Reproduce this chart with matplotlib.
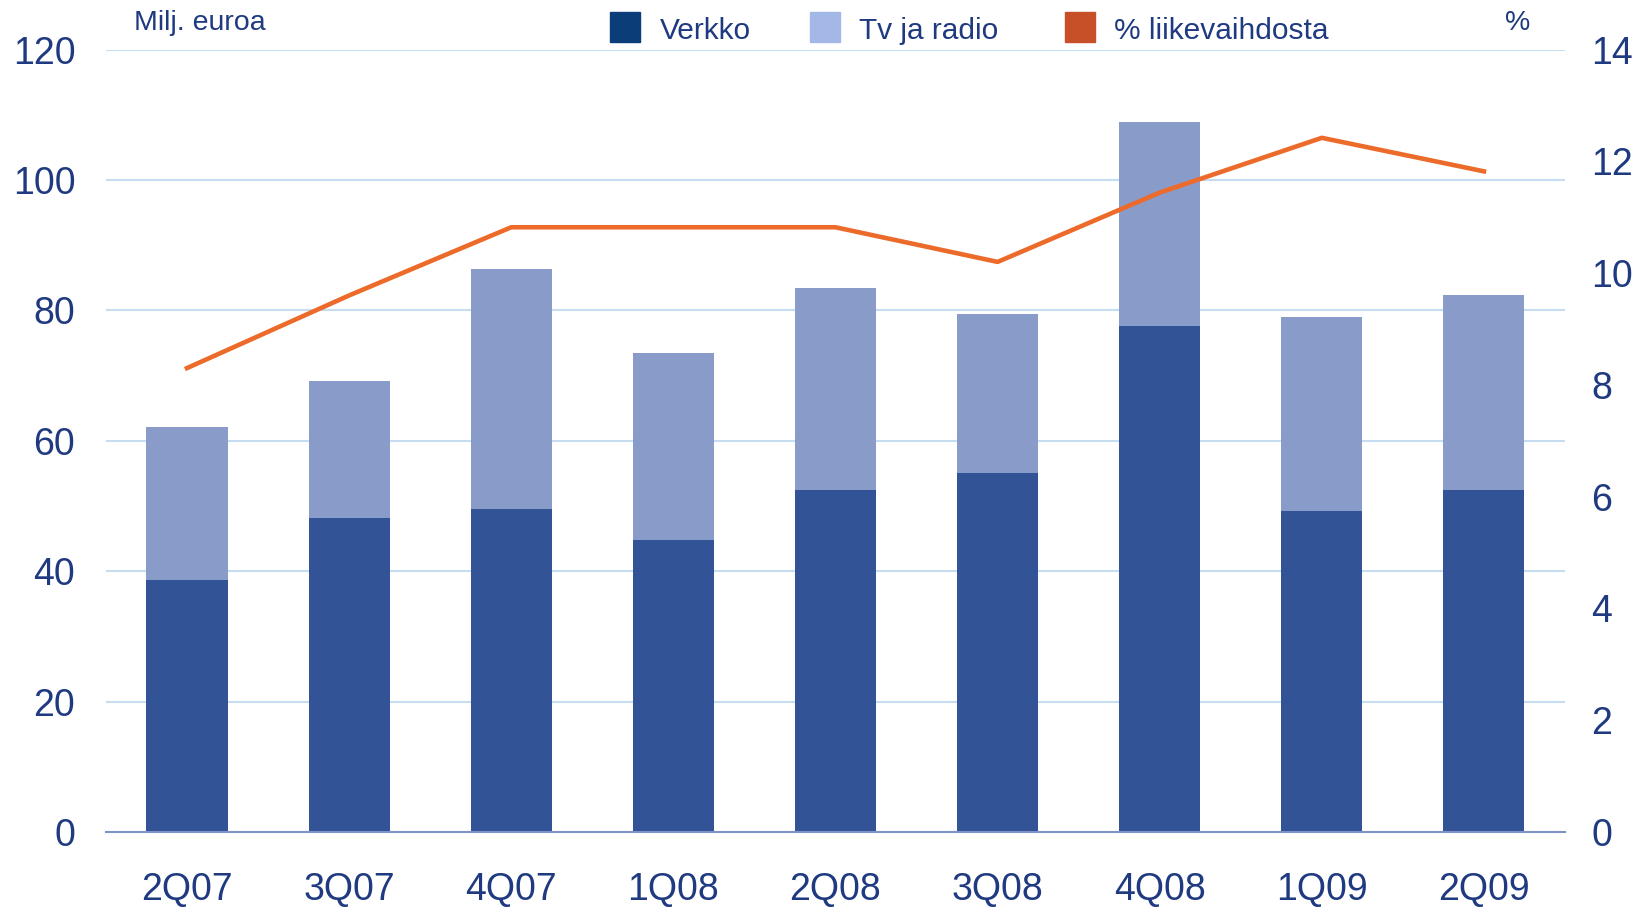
import matplotlib.pyplot as plt
from matplotlib.patches import Rectangle
import numpy as np

# data
quarters = ["2Q07", "3Q07", "4Q07", "1Q08", "2Q08", "3Q08", "4Q08", "1Q09", "2Q09"]
verkko = [38.7, 48.2, 49.5, 44.8, 52.4, 55.0, 77.6, 49.2, 52.4]
tv_radio_total = [62.1, 69.2, 86.3, 73.5, 83.5, 79.5, 108.9, 79.0, 82.3]
tv_radio = [t - v for t, v in zip(tv_radio_total, verkko)]
pct_liikevaihto = [8.30, 9.60, 10.82, 10.82, 10.82, 10.20, 11.44, 12.42, 11.82]

TXT = "#1f3a80"
DARK = "#335397"
LIGHT = "#889bc9"
ORANGE = "#ec6b2a"

plt.rcParams["font.family"] = ["Liberation Sans", "DejaVu Sans"]

fig = plt.figure(figsize=(16.5, 9.07), dpi=100)
ax = fig.add_axes([0.0642, 0.0827, 0.8843, 0.8627])
x = np.arange(len(quarters))

ax.bar(x, verkko, width=0.5, color=DARK, zorder=2)
ax.bar(x, tv_radio, width=0.5, bottom=verkko, color=LIGHT, zorder=2)

ax.set_xlim(-0.5, len(quarters) - 0.5)
ax.set_ylim(0, 120)
ax.set_yticks(range(0, 121, 20))
ax.yaxis.grid(True, color="#c6dcf0", linewidth=1.5, zorder=0)
ax.set_axisbelow(True)
for s in ["top", "right", "left"]:
    ax.spines[s].set_visible(False)
ax.spines["bottom"].set_color("#7f93c8")
ax.spines["bottom"].set_linewidth(1.5)
ax.spines["bottom"].set_zorder(3)
ax.set_xticks(x)
ax.set_xticklabels(quarters)
ax.tick_params(axis="x", length=0, pad=29, labelsize=27, labelcolor=TXT)
ax.tick_params(axis="y", length=0, pad=22, labelsize=27, labelcolor=TXT)

ax2 = ax.twinx()
ax2.plot(x, pct_liikevaihto, color=ORANGE, linewidth=3.3, zorder=5)
ax2.set_ylim(0, 14)
ax2.set_yticks(range(0, 15, 2))
for s in ax2.spines.values():
    s.set_visible(False)
ax2.tick_params(axis="y", length=0, pad=19, labelsize=27, labelcolor=TXT)

# unit labels
fig.text(134 / 1650, 1 - 23 / 907, "Milj. euroa", fontsize=20.5, color=TXT, va="center", ha="left")
fig.text(1518 / 1650, 1 - 23 / 907, "%", fontsize=20.5, color=TXT, va="center", ha="center")

# legend, drawn by hand to sit in the top band
items = [("Verkko", "#0b3d78", 610, 660), ("Tv ja radio", "#a4b8e8", 810, 859),
         ("% liikevaihdosta", "#c85028", 1065, 1114)]
for label, col, sx, tx in items:
    fig.add_artist(Rectangle((sx / 1650, 1 - 42 / 907), 30 / 1650, 30 / 907,
                             transform=fig.transFigure, color=col))
    fig.text(tx / 1650, 1 - 31 / 907, label, fontsize=21.5, color=TXT, va="center", ha="left")

fig.savefig("out.png", dpi=100)
